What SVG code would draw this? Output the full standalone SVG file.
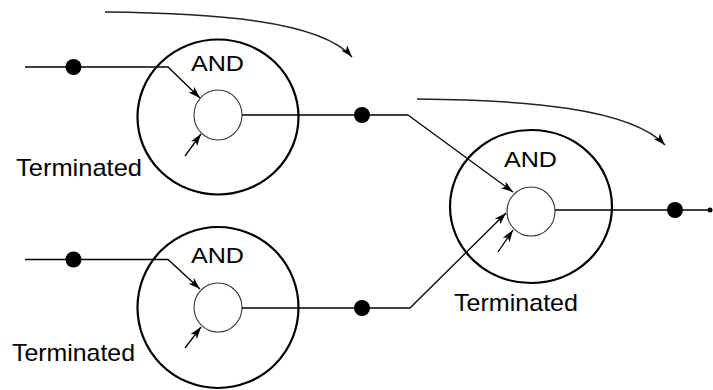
<svg xmlns="http://www.w3.org/2000/svg" width="713" height="390" viewBox="0 0 713 390">
<style>
.outer{fill:none;stroke:#000;stroke-width:2.2}
.inner{fill:#fff;stroke:#333;stroke-width:1.1}
.wire{fill:none;stroke:#000;stroke-width:1.3}
.flow{fill:none;stroke:#222;stroke-width:1.4}
.dot{fill:#000}
.lbl{font-family:"Liberation Sans",Arial,sans-serif;font-size:24px;fill:#000}
.and{font-size:22.5px}
</style>
<defs>
<marker id="ah" markerUnits="userSpaceOnUse" markerWidth="14" markerHeight="10" refX="12" refY="4" orient="auto">
<path d="M0,0 L12,4 L0,8 L3,4 Z" fill="#000"/>
</marker>
</defs>
<rect width="713" height="390" fill="#fff"/>
<g id="node-and1">
<ellipse class="outer" cx="218" cy="117" rx="80.5" ry="77.5"/>
<ellipse class="inner" cx="218" cy="115" rx="24" ry="25"/>
<text class="lbl and" x="191" y="71" textLength="53" lengthAdjust="spacingAndGlyphs">AND</text>
<text class="lbl" x="16" y="176" textLength="126" lengthAdjust="spacingAndGlyphs">Terminated</text>
</g>
<g id="node-and2">
<ellipse class="outer" cx="218" cy="307.5" rx="80.5" ry="80.5"/>
<ellipse class="inner" cx="218" cy="307.5" rx="24" ry="24.5"/>
<text class="lbl and" x="191" y="263" textLength="53" lengthAdjust="spacingAndGlyphs">AND</text>
<text class="lbl" x="12" y="361" textLength="123" lengthAdjust="spacingAndGlyphs">Terminated</text>
</g>
<g id="node-and3">
<ellipse class="outer" cx="531" cy="206.5" rx="81" ry="76.5"/>
<ellipse class="inner" cx="531" cy="211.5" rx="24" ry="24.5"/>
<text class="lbl and" x="504" y="167" textLength="53" lengthAdjust="spacingAndGlyphs">AND</text>
<text class="lbl" x="454" y="311" textLength="124" lengthAdjust="spacingAndGlyphs">Terminated</text>
</g>
<g id="connectors">
<polyline class="wire" points="25,67 168,67 200,98" marker-end="url(#ah)"/>
<line class="wire" x1="185" y1="156" x2="201" y2="134" marker-end="url(#ah)"/>
<line class="wire" x1="242" y1="115" x2="408" y2="115"/>
<polyline class="wire" points="25,259.5 168,259.5 200,289" marker-end="url(#ah)"/>
<line class="wire" x1="185" y1="348" x2="201" y2="327" marker-end="url(#ah)"/>
<line class="wire" x1="242" y1="308" x2="410" y2="308"/>
<polyline class="wire" points="408,115 513,192" marker-end="url(#ah)"/>
<polyline class="wire" points="410,308 506,213" marker-end="url(#ah)"/>
<line class="wire" x1="498" y1="252" x2="513" y2="230" marker-end="url(#ah)"/>
<line class="wire" x1="555" y1="210" x2="710" y2="210"/>
<path class="flow" d="M105,12 C210,13 320,20 352,57" marker-end="url(#ah)"/>
<path class="flow" d="M417,99 C525,100 630,108 665,145" marker-end="url(#ah)"/>
<circle class="dot" cx="73.5" cy="67" r="8"/>
<circle class="dot" cx="362" cy="115" r="8"/>
<circle class="dot" cx="73.5" cy="259.5" r="8"/>
<circle class="dot" cx="362" cy="308" r="8"/>
<circle class="dot" cx="675" cy="210" r="8"/>
<circle class="dot" cx="710" cy="210" r="2.5"/>
</g>
</svg>
